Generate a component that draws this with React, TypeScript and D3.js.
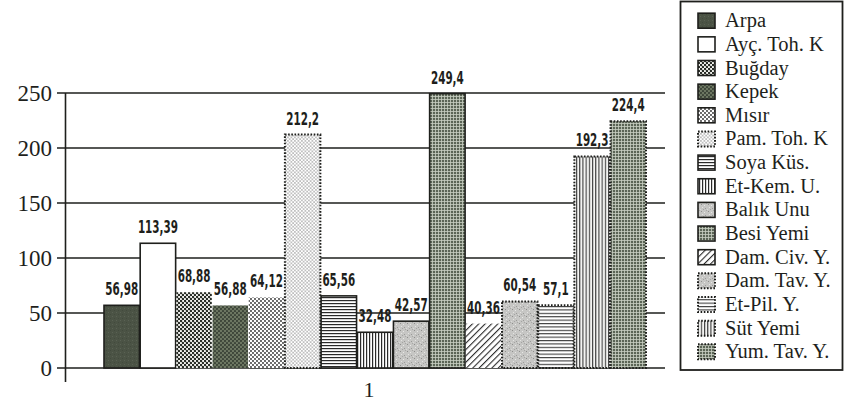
import React from "react";
import * as d3 from "d3";

// Feed types and their values
const categories = ["1"];
const seriesNames = [
  "Arpa",
  "Ayç. Toh. K",
  "Buğday",
  "Kepek",
  "Mısır",
  "Pam. Toh. K",
  "Soya Küs.",
  "Et-Kem. U.",
  "Balık Unu",
  "Besi Yemi",
  "Dam. Civ. Y.",
  "Dam. Tav. Y.",
  "Et-Pil. Y.",
  "Süt Yemi",
  "Yum. Tav. Y.",
];
const seriesValues = [
  56.98, 113.39, 68.88, 56.88, 64.12, 212.2, 65.56, 32.48, 42.57, 249.4, 40.36,
  60.54, 57.1, 192.3, 224.4,
];
const valueLabels = [
  "56,98", "113,39", "68,88", "56,88", "64,12", "212,2", "65,56", "32,48",
  "42,57", "249,4", "40,36", "60,54", "57,1", "192,3", "224,4",
];
const yTicks = [0, 50, 100, 150, 200, 250];

// fill pattern id and border style per series
const fills = [
  "solidDark", "white", "dotsDense", "dotsOlive", "dotsMid", "dotsLight",
  "hLines", "vLines", "speckle", "grid", "diag", "speckle", "hLines2",
  "vLines2", "grid",
];
const borders = [
  "solid", "solid", "none", "none", "none", "dotted", "solid", "solid",
  "solid", "solid", "none", "dotted", "dotted", "dotted", "dotted",
];

const W = 845;
const H = 406;
const ink = "#1e1f1c";
const serifFont = "'Liberation Serif', 'Times New Roman', serif";
const labelFont = "'DejaVu Sans Condensed', 'DejaVu Sans', sans-serif";

function Patterns() {
  return (
    <defs>
      <pattern id="solidDark" width="4" height="4" patternUnits="userSpaceOnUse">
        <rect width="4" height="4" fill="#4b5345" />
        <rect x="0" y="0" width="1" height="1" fill="#5a6254" />
        <rect x="2" y="2" width="1" height="1" fill="#424a3d" />
      </pattern>
      <pattern id="white" width="4" height="4" patternUnits="userSpaceOnUse">
        <rect width="4" height="4" fill="#ffffff" />
      </pattern>
      <pattern id="dotsDense" width="4" height="4" patternUnits="userSpaceOnUse">
        <rect width="4" height="4" fill="#f4f4f0" />
        <circle cx="1" cy="1" r="1.25" fill="#262a24" />
        <circle cx="3" cy="3" r="1.25" fill="#262a24" />
      </pattern>
      <pattern id="dotsOlive" width="4" height="4" patternUnits="userSpaceOnUse">
        <rect width="4" height="4" fill="#6d7762" />
        <circle cx="1" cy="1" r="1.1" fill="#3a4236" />
        <circle cx="3" cy="3" r="1.1" fill="#3a4236" />
      </pattern>
      <pattern id="dotsMid" width="4" height="4" patternUnits="userSpaceOnUse">
        <rect width="4" height="4" fill="#ffffff" />
        <circle cx="1" cy="1" r="0.9" fill="#2a2a2a" />
        <circle cx="3" cy="3" r="0.9" fill="#2a2a2a" />
      </pattern>
      <pattern id="dotsLight" width="3.5" height="3.5" patternUnits="userSpaceOnUse">
        <rect width="3.5" height="3.5" fill="#ffffff" />
        <circle cx="0.9" cy="0.9" r="0.6" fill="#555" />
        <circle cx="2.65" cy="2.65" r="0.6" fill="#555" />
      </pattern>
      <pattern id="hLines" width="4" height="3" patternUnits="userSpaceOnUse">
        <rect width="4" height="3" fill="#ffffff" />
        <rect y="0" width="4" height="1.2" fill="#2a2a2a" />
      </pattern>
      <pattern id="vLines" width="3" height="4" patternUnits="userSpaceOnUse">
        <rect width="3" height="4" fill="#ffffff" />
        <rect x="0" width="1.2" height="4" fill="#2a2a2a" />
      </pattern>
      <pattern id="hLines2" width="4" height="3.4" patternUnits="userSpaceOnUse">
        <rect width="4" height="3.4" fill="#ffffff" />
        <rect y="0" width="4" height="1.1" fill="#3a3a3a" />
      </pattern>
      <pattern id="vLines2" width="3.2" height="4" patternUnits="userSpaceOnUse">
        <rect width="3.2" height="4" fill="#f4f4f2" />
        <rect x="0" width="1.1" height="4" fill="#3a3a3a" />
      </pattern>
      <pattern id="speckle" width="7" height="7" patternUnits="userSpaceOnUse">
        <rect width="7" height="7" fill="#c6c6c4" />
        <rect x="1" y="1" width="1" height="1" fill="#8e8e8c" />
        <rect x="4" y="2" width="1" height="1" fill="#e8e8e6" />
        <rect x="2" y="4" width="1" height="1" fill="#e4e4e2" />
        <rect x="5" y="5" width="1" height="1" fill="#9a9a98" />
        <rect x="6" y="0" width="1" height="1" fill="#a8a8a6" />
        <rect x="0" y="6" width="1" height="1" fill="#dadad8" />
        <rect x="3" y="6" width="1" height="1" fill="#a4a4a2" />
      </pattern>
      <pattern id="grid" width="3" height="3" patternUnits="userSpaceOnUse">
        <rect width="3" height="3" fill="#5b6556" />
        <rect x="0" y="0" width="3" height="0.8" fill="#c9cfc3" />
        <rect x="0" y="0" width="0.8" height="3" fill="#c9cfc3" />
      </pattern>
      <pattern
        id="diag"
        width="4.5"
        height="4.5"
        patternUnits="userSpaceOnUse"
        patternTransform="rotate(45)"
      >
        <rect width="4.5" height="4.5" fill="#ffffff" />
        <rect x="0" width="1.1" height="4.5" fill="#2a2a2a" />
      </pattern>
    </defs>
  );
}

function strokeProps(kind: string) {
  if (kind === "solid") return { stroke: ink, strokeWidth: 1.6 };
  if (kind === "dotted")
    return { stroke: ink, strokeWidth: 2, strokeDasharray: "1.6,1.6" };
  return { stroke: "none" };
}

export default function App() {
  const y = d3.scaleLinear().domain([0, 250]).range([368, 93]);
  const xCat = d3.scaleBand<string>().domain(categories).range([65, 665]);
  const x = d3
    .scaleBand<string>()
    .domain(seriesNames)
    .range([104, 646])
    .paddingInner(0.02);

  const catCenter = (xCat(categories[0]) ?? 0) + xCat.bandwidth() / 2;

  const legendTop = 20.7;
  const legendStep = 23.65;

  return (
    <svg
      width={W}
      height={H}
      viewBox={`0 0 ${W} ${H}`}
      style={{ position: "absolute", left: 0, top: 0, background: "#fff" }}
    >
      <Patterns />
      <rect width={W} height={H} fill="#fff" />

      {/* horizontal gridlines */}
      {yTicks.map((t) => (
        <line
          key={`g${t}`}
          x1={57}
          x2={665}
          y1={y(t)}
          y2={y(t)}
          stroke={ink}
          strokeWidth={1.6}
        />
      ))}

      {/* y axis */}
      <line x1={65.5} x2={65.5} y1={y(250)} y2={382} stroke={ink} strokeWidth={1.6} />

      {yTicks.map((t) => (
        <text
          key={`t${t}`}
          x={52}
          y={y(t)}
          dy="0.35em"
          textAnchor="end"
          style={{ fontFamily: serifFont }}
          fontSize={23}
          fill={ink}
        >
          {t}
        </text>
      ))}

      {/* bars */}
      {seriesNames.map((name, i) => {
        const x0 = x(name) ?? 0;
        const yt = y(seriesValues[i]);
        return (
          <rect
            key={name}
            x={x0}
            y={yt}
            width={x.bandwidth()}
            height={y(0) - yt}
            fill={`url(#${fills[i]})`}
            {...strokeProps(borders[i])}
          />
        );
      })}

      {/* value labels */}
      {seriesNames.map((name, i) => {
        const cx = (x(name) ?? 0) + x.bandwidth() / 2;
        const yt = y(seriesValues[i]) - 10;
        return (
          <text
            key={`v${name}`}
            transform={`translate(${cx},${yt}) scale(0.66,1)`}
            textAnchor="middle"
            style={{ fontFamily: labelFont }}
            fontWeight="bold"
            fontSize={17.5}
            fill={ink}
          >
            {valueLabels[i]}
          </text>
        );
      })}

      {/* category label */}
      <text
        x={catCenter + 4}
        y={397}
        textAnchor="middle"
        style={{ fontFamily: serifFont }}
        fontSize={22}
        fill={ink}
      >
        {categories[0]}
      </text>

      {/* legend */}
      <rect
        x={680.5}
        y={1.5}
        width={162}
        height={368.5}
        fill="#fff"
        stroke={ink}
        strokeWidth={1.8}
      />
      {seriesNames.map((name, i) => {
        const cy = legendTop + i * legendStep;
        return (
          <g key={`l${name}`}>
            <rect
              x={698}
              y={cy - 7.5}
              width={17}
              height={15}
              fill={`url(#${fills[i]})`}
              {...strokeProps(borders[i] === "none" ? "solid" : borders[i])}
            />
            <text
              x={725}
              y={cy + 6.5}
              style={{ fontFamily: serifFont }}
              fontSize={20.5}
              fill={ink}
            >
              {name}
            </text>
          </g>
        );
      })}
    </svg>
  );
}
